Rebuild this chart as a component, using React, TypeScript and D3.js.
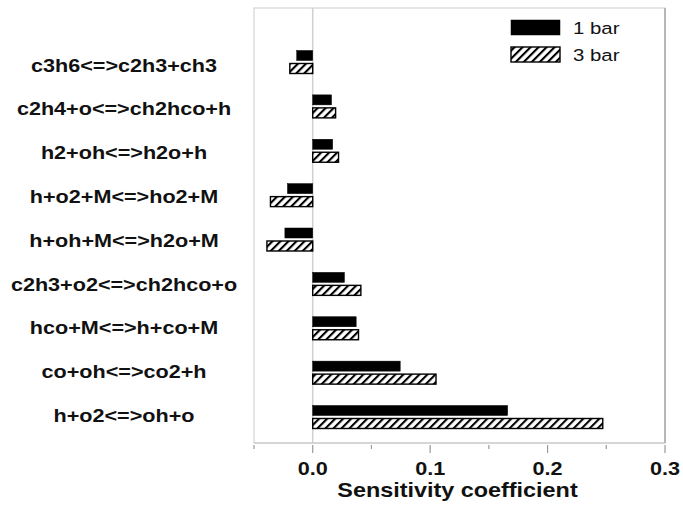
import React from "react";
import * as d3 from "d3";

const width = 683;
const height = 510;
const margin = { top: 8, right: 18, bottom: 67, left: 254 };
const stretch = 1.2; // the picture is a little wider than tall

const reactions = [
  "c3h6<=>c2h3+ch3",
  "c2h4+o<=>ch2hco+h",
  "h2+oh<=>h2o+h",
  "h+o2+M<=>ho2+M",
  "h+oh+M<=>h2o+M",
  "c2h3+o2<=>ch2hco+o",
  "hco+M<=>h+co+M",
  "co+oh<=>co2+h",
  "h+o2<=>oh+o",
];
const bar1 = [-0.0136, 0.016, 0.017, -0.0215, -0.0237, 0.027, 0.037, 0.0745, 0.166];
const bar3 = [-0.0195, 0.0195, 0.022, -0.036, -0.039, 0.041, 0.039, 0.105, 0.247];
const seriesNames = ["1 bar", "3 bar"];
const majorTicks = [0, 0.1, 0.2, 0.3];
const minorTicks = [-0.05, 0.05, 0.15, 0.25];

const x = d3
  .scaleLinear()
  .domain([-0.05, 0.3])
  .range([margin.left, width - margin.right]);

// category centres for the bars, first and last row
const y = d3
  .scalePoint()
  .domain(reactions)
  .range([62, 417]);

// label baselines (the labels run on a slightly tighter spacing)
const yLabel = d3
  .scalePoint()
  .domain(reactions)
  .range([71.5, 422]);

const inner = d3
  .scaleBand()
  .domain(seriesNames)
  .range([-11.5, 11.5])
  .paddingInner(0.23);

const bottom = height - margin.bottom;
const font = "'Liberation Sans', Arial, sans-serif";

const Stretched = ({ x0, y0, size, weight, anchor, children }: any) => (
  <text
    transform={`translate(${x0},${y0}) scale(${stretch},1)`}
    fontSize={size}
    fontWeight={weight}
    textAnchor={anchor}
    fontFamily={font}
    fill="#111"
  >
    {children}
  </text>
);

export default function App() {
  const series = [bar1, bar3];
  return (
    <svg
      width={width}
      height={height}
      style={{ position: "absolute", left: 0, top: 0, background: "#fff" }}
    >
      <defs>
        <pattern
          id="hatch"
          patternUnits="userSpaceOnUse"
          width={5.66}
          height={10}
          patternTransform="rotate(45)"
        >
          <rect width={5.66} height={10} fill="#fff" />
          <line x1={1} y1={0} x2={1} y2={10} stroke="#000" strokeWidth={2.2} />
        </pattern>
      </defs>

      {/* frame */}
      <rect
        x={margin.left}
        y={margin.top}
        width={width - margin.right - margin.left}
        height={bottom - margin.top}
        fill="none"
        stroke="#d4d4d4"
        strokeWidth={1.2}
      />
      <line x1={width - margin.right} x2={width - margin.right} y1={margin.top} y2={bottom} stroke="#888" />
      <line x1={x(0)} x2={x(0)} y1={margin.top} y2={bottom} stroke="#d0d0d0" strokeWidth={1.5} />
      <line x1={margin.left} x2={width - margin.right} y1={bottom} y2={bottom} stroke="#c8c8c8" strokeWidth={1.2} />

      {/* ticks */}
      {majorTicks.map((t) => (
        <g key={"M" + t}>
          <line x1={x(t)} x2={x(t)} y1={bottom + 2} y2={bottom + 10} stroke="#999" strokeWidth={1.2} />
          <Stretched x0={x(t)} y0={475} size={18} weight="bold" anchor="middle">
            {d3.format(".1f")(t)}
          </Stretched>
        </g>
      ))}
      {minorTicks.map((t) => (
        <line key={"m" + t} x1={x(t)} x2={x(t)} y1={bottom + 2} y2={bottom + 6} stroke="#999" strokeWidth={1.2} />
      ))}
      <Stretched x0={(x(-0.05) + x(0.3)) / 2 - 2} y0={497} size={19.5} weight="bold" anchor="middle">
        Sensitivity coefficient
      </Stretched>

      {/* bars */}
      {reactions.map((r, i) => (
        <g key={r}>
          {series.map((s, j) => {
            const v = s[i];
            const by = (y(r) as number) + (inner(seriesNames[j]) as number);
            return (
              <rect
                key={j}
                x={x(Math.min(0, v))}
                y={by}
                width={Math.abs(x(v) - x(0))}
                height={inner.bandwidth()}
                fill={j === 0 ? "#000" : "url(#hatch)"}
                stroke="#000"
                strokeWidth={j === 0 ? 0.5 : 1.4}
              />
            );
          })}
          <Stretched x0={124} y0={yLabel(r) as number} size={18} weight="bold" anchor="middle">
            {r}
          </Stretched>
        </g>
      ))}

      {/* legend */}
      {seriesNames.map((n, j) => (
        <g key={n}>
          <rect
            x={511}
            y={20 + j * 27}
            width={49}
            height={15}
            fill={j === 0 ? "#000" : "url(#hatch)"}
            stroke="#000"
            strokeWidth={j === 0 ? 0.5 : 1.4}
          />
          <Stretched x0={573} y0={34 + j * 27} size={17} weight="normal" anchor="start">
            {n}
          </Stretched>
        </g>
      ))}
    </svg>
  );
}
